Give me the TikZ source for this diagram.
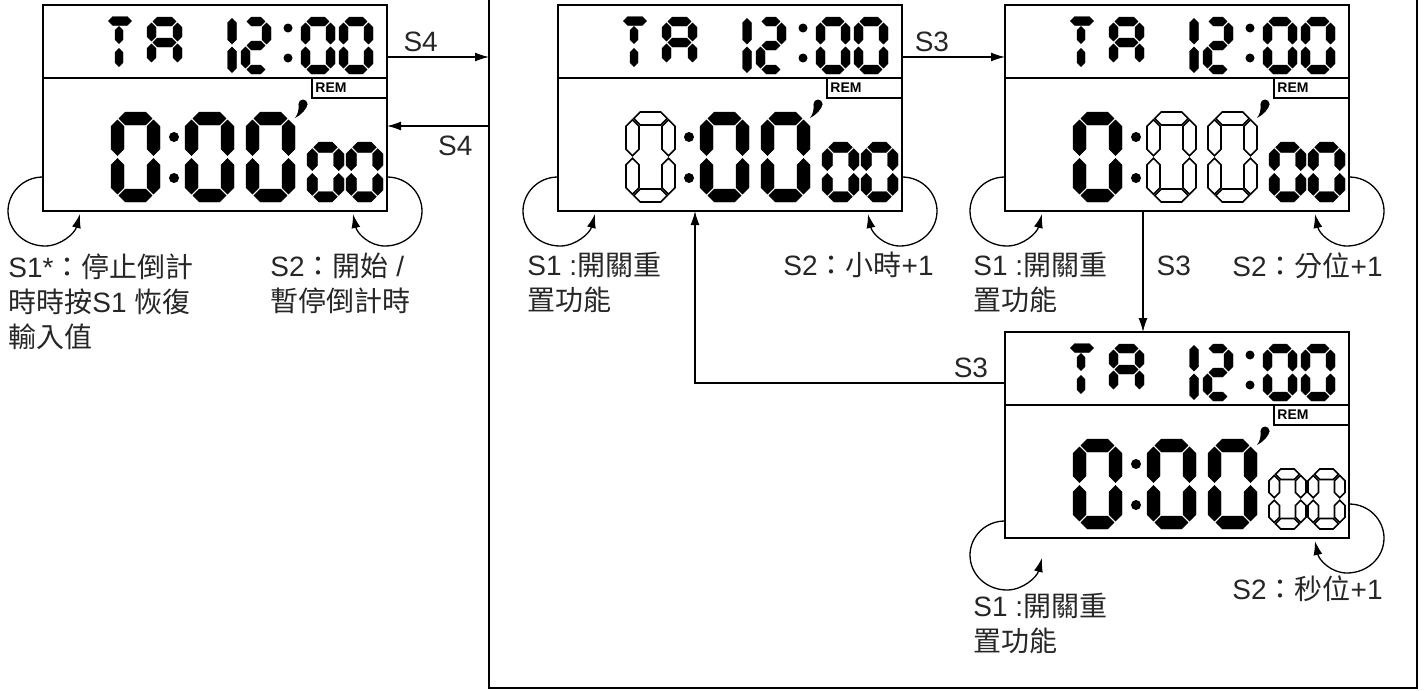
\documentclass[tikz,border=0pt]{standalone}
\usepackage{fontspec}
\setmainfont{Liberation Sans}
\newfontfamily\cjk{Noto Sans CJK TC}
\usetikzlibrary{arrows.meta,positioning}

\newcommand\zh[1]{{\cjk #1}}

% one LCD segment as a pointed hexagon: lying (x1,x2,y) or standing (x,y1,y2)
\newcommand\lcdhseg[5]{%
  \path[#5] ({#1+1.3},{#3}) -- ({#1+1.3+#4/2},{#3-#4/2}) -- ({#2-1.3-#4/2},{#3-#4/2})
    -- ({#2-1.3},{#3}) -- ({#2-1.3-#4/2},{#3+#4/2}) -- ({#1+1.3+#4/2},{#3+#4/2}) -- cycle;}
\newcommand\lcdvseg[5]{%
  \path[#5] ({#1},{#2+1.3}) -- ({#1+#4/2},{#2+1.3+#4/2}) -- ({#1+#4/2},{#3-1.3-#4/2})
    -- ({#1},{#3-1.3}) -- ({#1-#4/2},{#3-1.3-#4/2}) -- ({#1-#4/2},{#2+1.3+#4/2}) -- cycle;}
\newcommand\lcdsega[2]{\lcdhseg{\dxl}{\dxr}{\dyt}{#1}{#2}}
\newcommand\lcdsegb[2]{\lcdvseg{\dxr}{\dyt}{\dym}{#1}{#2}}
\newcommand\lcdsegc[2]{\lcdvseg{\dxr}{\dym}{\dyb}{#1}{#2}}
\newcommand\lcdsegd[2]{\lcdhseg{\dxl}{\dxr}{\dyb}{#1}{#2}}
\newcommand\lcdsege[2]{\lcdvseg{\dxl}{\dym}{\dyb}{#1}{#2}}
\newcommand\lcdsegf[2]{\lcdvseg{\dxl}{\dyt}{\dym}{#1}{#2}}
\newcommand\lcdsegg[2]{\lcdhseg{\dxl}{\dxr}{\dym}{#1}{#2}}
% digit: x, y (top left), width, height, thickness, style, segments
\newcommand\lcddigit[7]{%
  \pgfmathsetmacro\dxl{#1+#5/2}\pgfmathsetmacro\dxr{#1+#3-#5/2}%
  \pgfmathsetmacro\dyt{#2+#5/2}\pgfmathsetmacro\dym{#2+#4/2}\pgfmathsetmacro\dyb{#2+#4-#5/2}%
  \foreach \s in {#7}{\csname lcdseg\s\endcsname{#5}{#6}}}

% display contents: node, style of hours, minutes, seconds
\newcommand\lcdpanel[4]{%
  \begin{scope}[shift={(#1.north west)}]
    \draw[lcdframe] (0,73) -- (344,73);
    \draw[lcdframe] (269,73) |- (344,93);
    \node[remtext, anchor=west] (#1rem) at (272,83) {REM};
    % upper row: TA 12:00
    \lcdhseg{64}{90}{16}{9}{lcdon}
    \lcdvseg{76}{20}{40}{8}{lcdon}
    \lcdvseg{76}{42}{63}{8}{lcdon}
    \lcddigit{104}{12}{35}{51}{9}{lcdon}{a,b,c,e,f,g}
    \lcdvseg{189}{12}{40.5}{9}{lcdon}
    \lcdvseg{189}{40.5}{69}{9}{lcdon}
    \lcddigit{198}{12}{30}{57}{9}{lcdon}{a,b,g,e,d}
    \fill (245,23) circle (4.5) (245,53) circle (4.5);
    \lcddigit{258}{12}{34}{57}{9}{lcdon}{a,b,c,d,e,f}
    \lcddigit{296}{12}{34}{57}{9}{lcdon}{a,b,c,d,e,f}
    % lower row: 0:00'00
    \lcddigit{68}{107}{49}{90}{13}{#2}{a,b,c,d,e,f}
    \fill (131,132) circle (5) (131,173) circle (5);
    \lcddigit{142}{107}{49}{90}{13}{#3}{a,b,c,d,e,f}
    \lcddigit{203}{107}{49}{90}{13}{#3}{a,b,c,d,e,f}
    \fill (260,99) circle (4.5);
    \fill (255.5,99) .. controls (256,105) and (255,109) .. (252,113)
      .. controls (258,110) and (264,104) .. (264.5,99) -- cycle;
    \lcddigit{264}{137}{37}{60}{10.5}{#4}{a,b,c,d,e,f}
    \lcddigit{303}{137}{37}{60}{10.5}{#4}{a,b,c,d,e,f}
  \end{scope}}

% S1 / S2 self loops: node, drop of the left loop
\newcommand\lcdloops[2]{%
  \begin{scope}[shift={(#1.south west)}, shift={(0,#2)}]
    \draw[arr] (0,-34) .. controls (-20,-34) and (-35,-18) .. (-35,0)
      .. controls (-35,20) and (-18,35) .. (2,35) .. controls (18,35) and (32,22) .. (37,3);
  \end{scope}
  \begin{scope}[shift={(#1.south east)}]
    \draw[arr] (0,-34) .. controls (20,-34) and (35,-18) .. (35,0)
      .. controls (35,20) and (18,35) .. (-2,35) .. controls (-18,35) and (-30,22) .. (-34,3);
  \end{scope}}

\begin{document}
\begin{tikzpicture}[x=0.5pt, y=-0.5pt,
  lcdbox/.style={draw, line width=0.9pt, minimum width=172pt, minimum height=103pt, inner sep=0pt, outer sep=0pt},
  lcdframe/.style={line width=0.8pt},
  lcdon/.style={fill=black, draw=black, line width=0.2pt},
  lcdoff/.style={fill=white, draw=black, line width=0.8pt},
  remtext/.style={font=\fontsize{7}{8}\selectfont\bfseries, inner sep=0pt},
  arr/.style={-{Latex[length=7pt, width=4.5pt]}, line width=0.65pt},
  lbl/.style={font=\fontsize{14}{17.5}\selectfont, align=left, inner sep=0pt, text=black!85},
  slbl/.style={font=\fontsize{14}{17}\selectfont, inner sep=0pt, text=black!85},
]
\useasboundingbox (0,0) rectangle (1426,691);

% Displays
\node[lcdbox] (d1) at (215,108) {};
\node[lcdbox, right=85.5pt of d1] (d2) {};
\node[lcdbox, right=51.5pt of d2] (d3) {};
\node[lcdbox, below=60.5pt of d3] (d4) {};

% Frame round the setting states
\draw[line width=0.9pt] (489,0) |- (1417,688) -- (1417,0);

\lcdpanel{d1}{lcdon}{lcdon}{lcdon}
\lcdpanel{d2}{lcdoff}{lcdon}{lcdon}
\lcdpanel{d3}{lcdon}{lcdoff}{lcdon}
\lcdpanel{d4}{lcdon}{lcdon}{lcdoff}

% Loops
\lcdloops{d1}{0}
\lcdloops{d2}{0}
\lcdloops{d3}{0}
\lcdloops{d4}{17}

% Arrows
\coordinate (s4out) at (489,57);
\coordinate (s4in) at (489,126);
\coordinate (s3down) at (1143,0);
\coordinate (s3turn) at (695,383);
\draw[arr] (d1.east |- s4out) -- node[slbl, pos=0.33, above=2.5pt] (s4a) {S4} (s4out);
\draw[arr] (s4in) -- node[slbl, pos=0.33, below=4.5pt] (s4b) {S4} (d1.east |- s4in);
\draw[arr] (d2.east |- s4out) -- node[slbl, pos=0.29, above=2.5pt] (s3a) {S3} (d3.west |- s4out);
\draw[arr] (d3.south -| s3down) -- node[slbl, pos=0.45, right=6.5pt] (s3b) {S3} (d4.north -| s3down);
\draw[arr] (d4.west |- s3turn) -- node[slbl, pos=0.11, above=2.5pt] (s3c) {S3} (s3turn) -- (d2.south -| s3turn);

% Key labels
\node[lbl, anchor=north west] (d1s1) at (8,253) {S1*\zh{：停止倒計}\\\zh{時時按}S1 \zh{恢復}\\\zh{輸入值}};
\node[lbl, anchor=north west] (d1s2) at (270,253) {S2\zh{：開始} /\\\zh{暫停倒計時}};
\node[lbl, anchor=north west] (d2s1) at (527,252) {S1 :\zh{開關重}\\\zh{置功能}};
\node[lbl, anchor=north west] (d2s2) at (783,252) {S2\zh{：小時}+1};
\node[lbl, anchor=north west] (d3s1) at (973,252) {S1 :\zh{開關重}\\\zh{置功能}};
\node[lbl, anchor=north west] (d3s2) at (1232,252) {S2\zh{：分位}+1};
\node[lbl, anchor=north west] (d4s1) at (973,593) {S1 :\zh{開關重}\\\zh{置功能}};
\node[lbl, anchor=north west] (d4s2) at (1232,575) {S2\zh{：秒位}+1};
\end{tikzpicture}
\end{document}
